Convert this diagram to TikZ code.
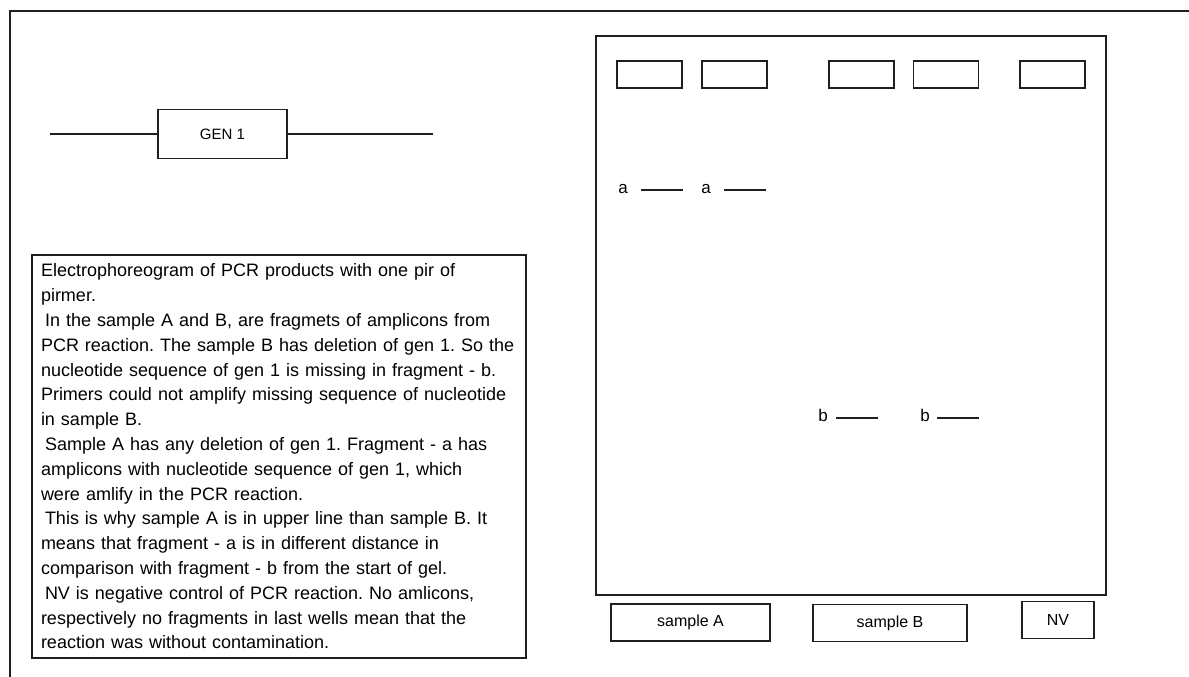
\documentclass[tikz,border=0pt]{standalone}
\usepackage{fontspec}
\setmainfont{Liberation Sans}
\frenchspacing
\usetikzlibrary{positioning}

\begin{document}
\begin{tikzpicture}[
  x=1pt,y=-1pt,
  line/.style={draw=black!88,line width=1.9pt},
  box/.style={draw=black!88,line width=1.9pt,inner sep=0pt},
  well/.style={box,minimum width=65pt,minimum height=27pt},
  lane/.style={box,minimum height=37pt,font=\fontsize{16}{19}\selectfont},
  bandlabel/.style={inner sep=0pt,font=\fontsize{17}{20}\selectfont},
  note/.style={box,align=left,inner xsep=9pt,text width=476pt,minimum height=403pt,
    font=\fontsize{18}{24.8}\selectfont}
]
\useasboundingbox (0,0) rectangle (1189,677);

% outer frame (only top and left edge show)
\coordinate (ftl) at (10,11);
\draw[line] (10,677) -- (ftl) -- (1189,11);

% gene on the strand
\coordinate (gl) at (50,134);
\coordinate (gr) at (433,134);
\node[box,minimum width=129pt,minimum height=49pt,font=\fontsize{15}{18}\selectfont] (gen) at (222.5,134) {GEN 1};
\draw[line] (gl) -- (gen.west);
\draw[line] (gen.east) -- (gr);

% explanation
\node[note] (txt) at (279,456.5) {Electrophoreogram of PCR products with one pir of\\
pirmer.\\
\hspace*{4pt}In the sample A and B, are fragmets of amplicons from\\
PCR reaction. The sample B has deletion of gen 1. So the\\
nucleotide sequence of gen 1 is missing in fragment - b.\\
Primers could not amplify missing sequence of nucleotide\\
in sample B.\\
\hspace*{4pt}Sample A has any deletion of gen 1. Fragment - a has\\
amplicons with nucleotide sequence of gen 1, which\\
were amlify in the PCR reaction.\\
\hspace*{4pt}This is why sample A is in upper line than sample B. It\\
means that fragment - a is in different distance in\\
comparison with fragment - b from the start of gel.\\
\hspace*{4pt}NV is negative control of PCR reaction. No amlicons,\\
respectively no fragments in last wells mean that the\\
reaction was without contamination.};

% gel with wells
\node[box,minimum width=510pt,minimum height=559pt] (gel) at (851,315.5) {};
\foreach \n/\x in {w1/649.5,w2/734.5,w3/861.5,w4/946,w5/1052.5}
  \node[well] (\n) at (\x,74.5) {};

% bands
\foreach \n/\lx/\bx/\y/\t in {1/623/641/190/a,2/706/724/190/a,3/823/836/418/b,4/925/937/418/b}{
  \node[bandlabel,anchor=base] (lab\n) at (\lx,\y+3) {\t};
  \draw[line] (\bx,\y) -- ++(42,0);
}

% lane names
\node[lane,minimum width=159pt] (sa) at (690.5,622.5) {sample A};
\node[lane,minimum width=154pt] (sb) at (890,623) {sample B};
\node[lane,minimum width=72pt] (nv) at (1058,620) {NV};
\end{tikzpicture}
\end{document}
